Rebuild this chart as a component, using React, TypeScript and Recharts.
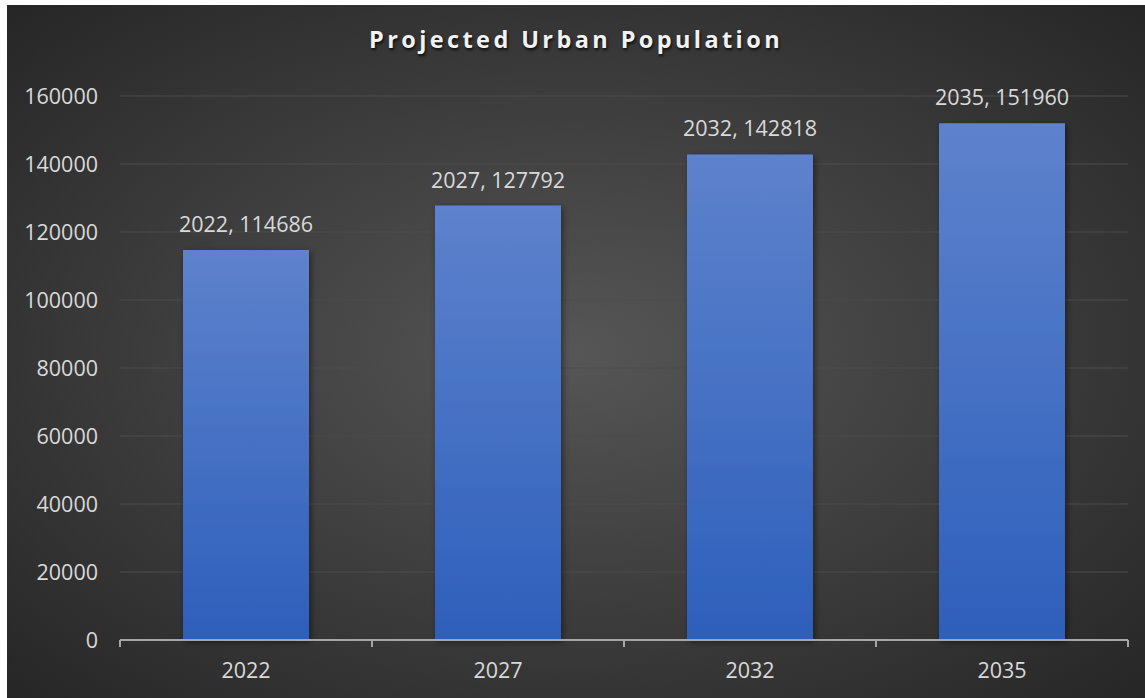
import { Bar, BarChart, CartesianGrid, LabelList, XAxis, YAxis } from "recharts";

const years = ["2022", "2027", "2032", "2035"];
const population = [114686, 127792, 142818, 151960];
const yTicks = [0, 20000, 40000, 60000, 80000, 100000, 120000, 140000, 160000];
const bandEdges = [0, 1, 2, 3, 4];

const data = years.map((year, i) => ({ year, population: population[i], edge: i }));

const font = "'Open Sans', 'Noto Sans', sans-serif";
const textColor = "#D9D9D9";

export default function App() {
  return (
    <div style={{ position: "absolute", left: 0, top: 0, width: 1145, height: 698, background: "#fff", overflow: "hidden" }}>
      <div
        style={{
          position: "absolute",
          left: 7,
          top: 5,
          width: 1138,
          height: 693,
          background: "radial-gradient(ellipse at 50% 50%, #565656 0%, #404040 45%, #262626 100%)",
        }}
      >
        <div
          style={{
            position: "absolute",
            left: 0,
            top: 18,
            width: 1138,
            textAlign: "center",
            fontFamily: font,
            fontWeight: 700,
            fontSize: 23.5,
            letterSpacing: 3.4,
            color: "#F2F2F2",
            textShadow: "1px 2px 3px rgba(0,0,0,0.8)",
          }}
        >
          Projected Urban Population
        </div>
        <BarChart
          width={1138}
          height={693}
          data={data}
          margin={{ top: 91, right: 17, bottom: 27, left: 13 }}
          barCategoryGap="25%"
        >
          <defs>
            <linearGradient id="barFill" x1="0" y1="0" x2="0" y2="1">
              <stop offset="0%" stopColor="#5E82CC" />
              <stop offset="100%" stopColor="#2D5FBB" />
            </linearGradient>
            <filter id="barShadow" x="-20%" y="-10%" width="140%" height="120%">
              <feDropShadow dx="2" dy="2" stdDeviation="3" floodColor="#000" floodOpacity="0.45" />
            </filter>
          </defs>
          <CartesianGrid xAxisId="year" vertical={false} stroke="#4D4D4D" strokeWidth={1.2} />
          {/* numeric helper axis: draws the base line with ticks at the band edges */}
          <XAxis
            xAxisId="frame"
            dataKey="edge"
            type="number"
            domain={[0, 4]}
            ticks={bandEdges}
            allowDataOverflow
            height={1}
            tickSize={7}
            tick={() => <g />}
            axisLine={{ stroke: "#A6A6A6", strokeWidth: 2 }}
            tickLine={{ stroke: "#A6A6A6", strokeWidth: 2 }}
          />
          <XAxis
            xAxisId="year"
            dataKey="year"
            height={30}
            axisLine={false}
            tickLine={false}
            tickMargin={16}
            tick={{ fill: textColor, fontSize: 21.5, fontFamily: font }}
          />
          <YAxis
            width={100}
            domain={[0, 160000]}
            ticks={yTicks}
            axisLine={false}
            tickLine={false}
            tickSize={0}
            tickMargin={22}
            tick={{ fill: textColor, fontSize: 21.5, fontFamily: font }}
          />
          <Bar xAxisId="year" dataKey="population" fill="url(#barFill)" filter="url(#barShadow)" isAnimationActive={false}>
            <LabelList
              dataKey="population"
              content={(props: any) => {
                const { x, y, width, index } = props;
                return (
                  <text
                    x={x + width / 2}
                    y={y - 18}
                    textAnchor="middle"
                    fill={textColor}
                    fontSize={21.5}
                    fontFamily={font}
                  >
                    {`${years[index]}, ${population[index]}`}
                  </text>
                );
              }}
            />
          </Bar>
        </BarChart>
      </div>
    </div>
  );
}
